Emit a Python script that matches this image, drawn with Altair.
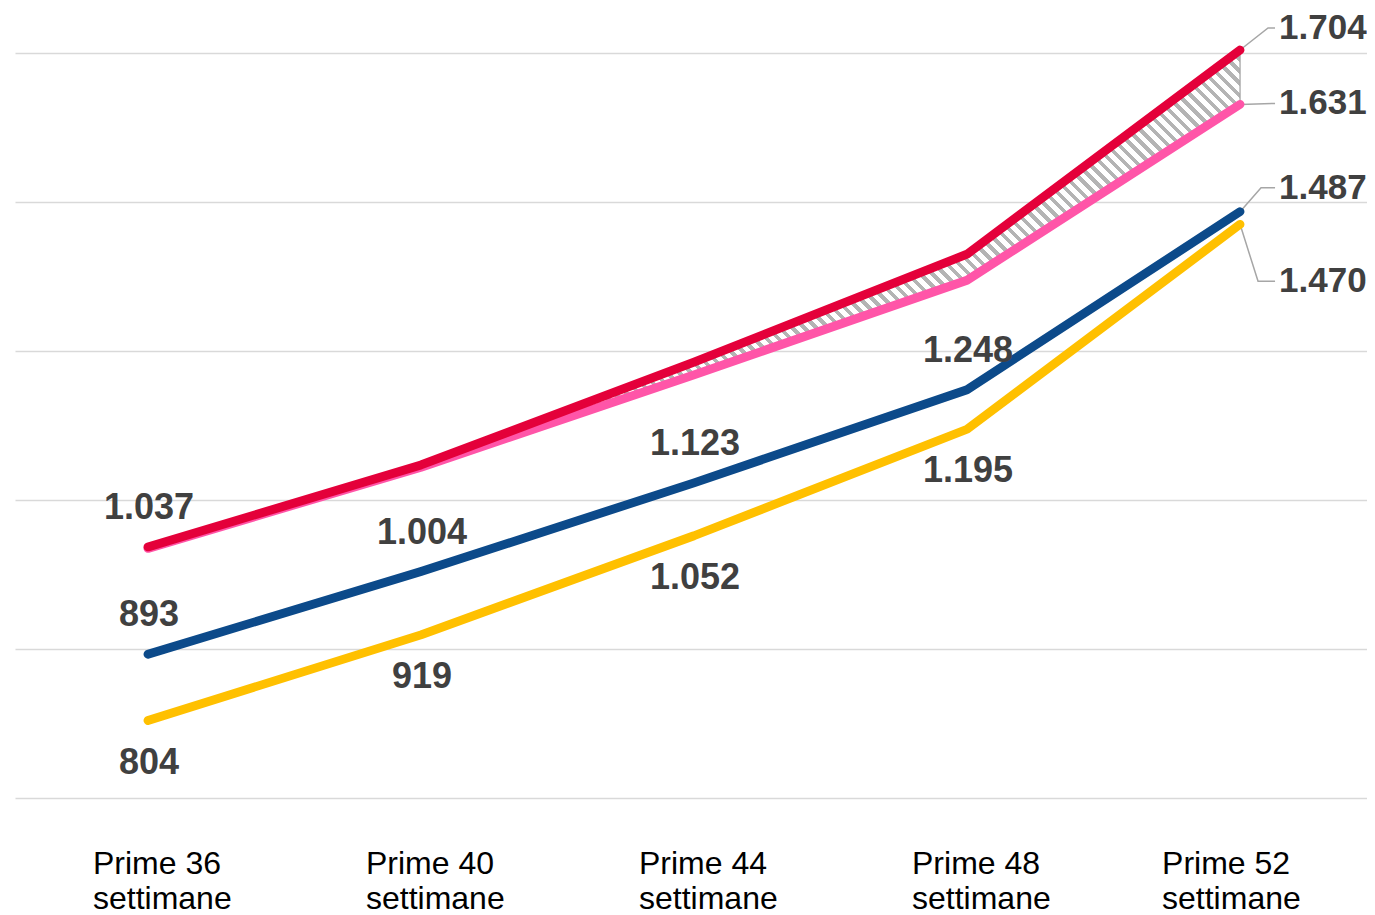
import altair as alt
import pandas as pd
import math

# ---------------- data ----------------
categories = ["Prime 36\nsettimane", "Prime 40\nsettimane", "Prime 44\nsettimane",
              "Prime 48\nsettimane", "Prime 52\nsettimane"]
red = [1037, 1147, 1285, 1430, 1704]
pink = [1035, 1144, 1268, 1395, 1631]
blue = [893, 1004, 1123, 1248, 1487]
yellow = [804, 919, 1052, 1195, 1470]
grid_values = [700, 900, 1100, 1300, 1500, 1700]

# ---------------- style ----------------
C_RED = "#E4003A"
C_PINK = "#FF55A8"
C_BLUE = "#0C4A8A"
C_YELLOW = "#FFC000"
C_TEXT = "#404040"
C_LEAD = "#A6A6A6"
FONT = "Liberation Sans"

W, H = 1352, 745
X_DOM = [-0.487, 4.465]
Y_DOM = [700, 1700]
px_x = W / (X_DOM[1] - X_DOM[0])
px_y = H / (Y_DOM[1] - Y_DOM[0])


def fmt(v):
    return f"{v:,}".replace(",", ".")


idx = list(range(len(categories)))
xs = alt.Scale(domain=X_DOM, nice=False, zero=False)
ys = alt.Scale(domain=Y_DOM, nice=False, zero=False)

# ---------------- hatched area between red and pink ----------------
area_df = pd.DataFrame({"i": idx, "red": red, "pink": pink})
bw = (idx[-1] - idx[0]) * px_x
bh = (max(red + pink) - min(red + pink)) * px_y
k = bh / bw
gx2 = (1 + k) / (1 + k * k)
gy2 = 1 - k * (1 + k) / (1 + k * k)
span = (gx2 * bw + (1 - gy2) * bh) / math.sqrt(2)
n = int(round(span / 8.6))
stops = []
for j in range(n):
    a = j / n
    b = (j + 0.45) / n
    c = (j + 1) / n
    stops += [alt.GradientStop(offset=round(a, 6), color="#B4B4B4"),
              alt.GradientStop(offset=round(b, 6), color="#B4B4B4"),
              alt.GradientStop(offset=round(b, 6), color="#FFFFFF"),
              alt.GradientStop(offset=round(c, 6), color="#FFFFFF")]
hatch = alt.Gradient(gradient="linear", stops=stops, x1=0, y1=1, x2=gx2, y2=gy2)

area = alt.Chart(area_df).mark_area(fill=hatch, stroke=C_LEAD, strokeWidth=1.3).encode(
    x=alt.X("i:Q", scale=xs, axis=None),
    y=alt.Y("red:Q", scale=ys,
            axis=alt.Axis(values=grid_values, grid=True, labels=False, ticks=False,
                          domain=False, title=None, gridColor="#D9D9D9", gridWidth=1.5)),
    y2="pink:Q",
)

# ---------------- lines ----------------
def line_layer(vals, color):
    df = pd.DataFrame({"i": idx, "v": vals})
    return alt.Chart(df).mark_line(color=color, strokeWidth=8.8, strokeCap="round",
                                   strokeJoin="round").encode(
        x=alt.X("i:Q", scale=xs), y=alt.Y("v:Q", scale=ys))

lines = [line_layer(blue, C_BLUE), line_layer(yellow, C_YELLOW),
         line_layer(pink, C_PINK), line_layer(red, C_RED)]

# ---------------- leader lines for end labels ----------------
last = idx[-1]
leader_specs = [
    (red[-1], [(0, 0), (28, -22), (35, -22)]),
    (pink[-1], [(0, 0), (35, -1)]),
    (blue[-1], [(0, 0), (21, -24), (35, -24)]),
    (yellow[-1], [(0, 0), (18, 57), (35, 57)]),
]
lead_rows, end_rows = [], []
for s, (val, pts) in enumerate(leader_specs):
    for o, (dxp, dyp) in enumerate(pts):
        lead_rows.append({"s": s, "o": o, "x": last + dxp / px_x, "y": val - dyp / px_y})
    dxp, dyp = pts[-1]
    end_rows.append({"x": last + (dxp + 4) / px_x, "y": val - dyp / px_y, "t": fmt(val)})
lead_df = pd.DataFrame(lead_rows)
end_df = pd.DataFrame(end_rows)

leaders = alt.Chart(lead_df).mark_line(color=C_LEAD, strokeWidth=1.5).encode(
    x=alt.X("x:Q", scale=xs), y=alt.Y("y:Q", scale=ys), detail="s:N", order="o:Q")

end_labels = alt.Chart(end_df).mark_text(
    align="left", baseline="middle", font=FONT, fontSize=35, fontWeight="bold", color=C_TEXT
).encode(x=alt.X("x:Q", scale=xs), y=alt.Y("y:Q", scale=ys), text="t:N")

# ---------------- point labels ----------------
above_df = pd.DataFrame({"i": [0] + idx[:4], "v": [red[0]] + blue[:4]})
above_df["t"] = above_df["v"].map(fmt)
below_df = pd.DataFrame({"i": idx[:4], "v": yellow[:4]})
below_df["t"] = below_df["v"].map(fmt)

lab_above = alt.Chart(above_df).mark_text(
    align="center", baseline="middle", dy=-39, dx=1, font=FONT, fontSize=36,
    fontWeight="bold", color=C_TEXT
).encode(x=alt.X("i:Q", scale=xs), y=alt.Y("v:Q", scale=ys), text="t:N")

lab_below = alt.Chart(below_df).mark_text(
    align="center", baseline="middle", dy=42, dx=1, font=FONT, fontSize=36,
    fontWeight="bold", color=C_TEXT
).encode(x=alt.X("i:Q", scale=xs), y=alt.Y("v:Q", scale=ys), text="t:N")

# ---------------- category labels ----------------
cat_df = pd.DataFrame({"i": idx, "c": categories})

def cat_layer(df, dx):
    return alt.Chart(df).mark_text(
        align="left", baseline="alphabetic", dx=dx, dy=76, lineBreak="\n", lineHeight=35,
        font=FONT, fontSize=32, color="#000000"
    ).encode(x=alt.X("i:Q", scale=xs), y=alt.datum(Y_DOM[0], scale=ys), text="c:N")

cat_labels = [cat_layer(cat_df.iloc[:4], -55), cat_layer(cat_df.iloc[4:], -78)]

chart = alt.layer(area, leaders, *lines, lab_above, lab_below, end_labels, *cat_labels).properties(
    width=W, height=H,
    padding={"left": 7, "top": 45, "right": 0, "bottom": 116},
    autosize=alt.AutoSizeParams(type="none"),
    background="#FFFFFF",
).configure_view(stroke=None)

chart.save("out.html", embed_options={"renderer": "svg", "actions": False})
